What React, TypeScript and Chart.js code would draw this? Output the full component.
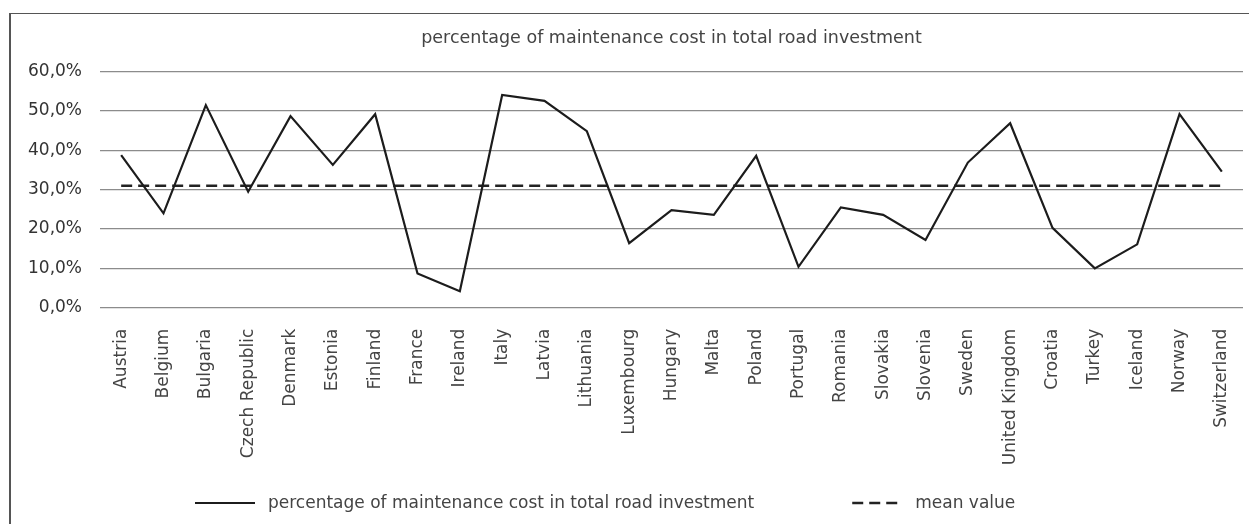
import React, { useEffect, useRef } from "react";
import { Chart, registerables } from "chart.js";

Chart.register(...registerables);

const categories = [
  "Austria", "Belgium", "Bulgaria", "Czech Republic", "Denmark", "Estonia", "Finland",
  "France", "Ireland", "Italy", "Latvia", "Lithuania", "Luxembourg", "Hungary", "Malta",
  "Poland", "Portugal", "Romania", "Slovakia", "Slovenia", "Sweden", "United Kingdom",
  "Croatia", "Turkey", "Iceland", "Norway", "Switzerland",
];

const maintenanceShare = [
  38.8, 24.0, 51.5, 29.5, 48.7, 36.3, 49.2,
  8.7, 4.2, 54.1, 52.6, 44.9, 16.4, 24.8, 23.6,
  38.6, 10.4, 25.5, 23.6, 17.2, 36.9, 46.9,
  20.3, 10.0, 16.1, 49.2, 34.6,
];

const meanValue = [
  31.0, 31.0, 31.0, 31.0, 31.0, 31.0, 31.0,
  31.0, 31.0, 31.0, 31.0, 31.0, 31.0, 31.0, 31.0,
  31.0, 31.0, 31.0, 31.0, 31.0, 31.0, 31.0,
  31.0, 31.0, 31.0, 31.0, 31.0,
];

const yTickValues = [0, 10, 20, 30, 40, 50, 60];

const seriesLabels = [
  "percentage of maintenance cost in total road investment",
  "mean value",
];

const chartTitle = "percentage of maintenance cost in total road investment";

const FONT = "'DejaVu Sans', sans-serif";

const bottomLegend = {
  id: "bottomLegend",
  afterDraw(chart: any) {
    const ctx = chart.ctx;
    const y = 503;
    let x = 195;
    ctx.save();
    ctx.font = `17px ${FONT}`;
    ctx.textBaseline = "middle";
    ctx.textAlign = "left";
    chart.data.datasets.forEach((ds: any, i: number) => {
      const lineLen = i === 0 ? 60 : 50;
      ctx.beginPath();
      ctx.setLineDash(ds.borderDash || []);
      ctx.strokeStyle = ds.borderColor;
      ctx.lineWidth = ds.borderWidth;
      ctx.moveTo(x, y);
      ctx.lineTo(x + lineLen, y);
      ctx.stroke();
      ctx.setLineDash([]);
      ctx.fillStyle = "#444";
      const tx = x + lineLen + 13;
      ctx.fillText(ds.label, tx, y + 1);
      x = tx + ctx.measureText(ds.label).width + 98;
    });
    ctx.restore();
  },
};

export default function App() {
  const canvasRef = useRef<HTMLCanvasElement | null>(null);

  useEffect(() => {
    if (!canvasRef.current) return;
    const chart = new Chart(canvasRef.current, {
      type: "line",
      data: {
        labels: categories,
        datasets: [
          {
            label: seriesLabels[0],
            data: maintenanceShare,
            borderColor: "#1c1c1c",
            borderWidth: 2.2,
            pointRadius: 0,
            tension: 0,
            fill: false,
          },
          {
            label: seriesLabels[1],
            data: meanValue,
            borderColor: "#222",
            borderWidth: 2.6,
            borderDash: [11, 6],
            pointRadius: 0,
            tension: 0,
            fill: false,
          },
        ],
      },
      options: {
        animation: false,
        responsive: false,
        maintainAspectRatio: false,
        layout: { padding: { left: 0, right: 6, top: 0, bottom: 0 } },
        plugins: {
          legend: { display: false },
          tooltip: { enabled: false },
          title: {
            display: true,
            fullSize: false,
            text: chartTitle,
            color: "#444",
            font: { family: FONT, size: 17.5, weight: "normal" },
            padding: { top: 28, bottom: 22.7 },
          },
        },
        scales: {
          x: {
            type: "category",
            offset: true,
            grid: { display: false, drawTicks: false },
            border: { display: false },
            ticks: {
              autoSkip: false,
              minRotation: 90,
              maxRotation: 90,
              padding: 21,
              color: "#444",
              font: { family: FONT, size: 17 },
            },
            afterFit: (s: any) => {
              s.height = 524 - 307.7;
              s.paddingLeft = 0;
              s.paddingRight = 0;
            },
          },
          y: {
            min: 0,
            max: 60,
            afterBuildTicks: (s: any) => {
              s.ticks = yTickValues.map((v) => ({ value: v }));
            },
            ticks: {
              stepSize: 10,
              padding: 18,
              color: "#333",
              font: { family: FONT, size: 17 },
              callback: (v: any) => Number(v).toFixed(1).replace(".", ",") + "%",
            },
            grid: { color: "#8c8c8c", lineWidth: 1.3, drawTicks: false },
            border: { display: false },
            afterFit: (s: any) => {
              s.width = 100;
            },
          },
        },
      },
      plugins: [bottomLegend],
    });
    return () => chart.destroy();
  }, []);

  return (
    <div style={{ position: "fixed", left: 0, top: 0, width: 1249, height: 524, background: "#fff", overflow: "hidden" }}>
      <div
        style={{
          position: "absolute",
          left: 9,
          top: 13,
          width: 1260,
          height: 600,
          borderLeft: "2px solid #555",
          borderTop: "1.5px solid #555",
        }}
      />
      <canvas ref={canvasRef} width={1249} height={524} style={{ position: "absolute", left: 0, top: 0, width: 1249, height: 524 }} />
    </div>
  );
}
